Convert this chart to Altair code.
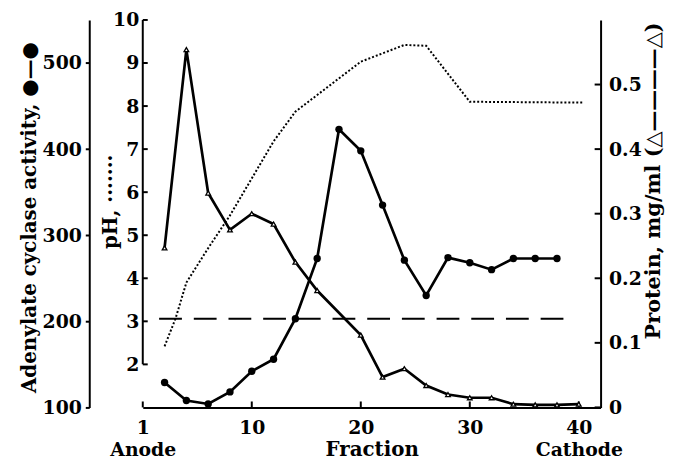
import altair as alt
import pandas as pd

# ---- data ----
act_fraction = [2, 4, 6, 8, 10, 12, 14, 16, 18, 20, 22, 24, 26, 28, 30, 32, 34, 36, 38]
act_value = [129, 108, 104, 118, 142, 156, 203, 273, 423, 398, 335, 271, 230, 274, 268, 260, 273, 273, 273]

prot_fraction = [2, 4, 6, 8, 10, 12, 14, 16, 20, 22, 24, 26, 28, 30, 32, 34, 36, 38, 40]
prot_value = [0.247, 0.554, 0.332, 0.275, 0.300, 0.284, 0.225, 0.181, 0.112, 0.047, 0.060,
              0.034, 0.020, 0.015, 0.015, 0.005, 0.004, 0.004, 0.005]

ph_fraction = [2, 3, 4, 6, 8, 10, 12, 14, 20, 24, 26, 30, 40.4]
ph_value = [2.42, 3.06, 3.90, 4.70, 5.46, 6.32, 7.18, 7.87, 9.03, 9.42, 9.40, 8.10, 8.08]

baseline_activity = [203]
baseline_from = [1.5]
baseline_to = [39.5]

x_ticks = [0, 10, 20, 30, 40]
act_ticks = [100, 200, 300, 400, 500]
ph_ticks = [2, 3, 4, 5, 6, 7, 8, 9, 10]
prot_ticks = [0, 0.1, 0.2, 0.3, 0.4, 0.5]

W, H = 462, 391
FONT = "DejaVu Serif"

act_df = pd.DataFrame({"fraction": act_fraction, "activity": act_value})
prot_df = pd.DataFrame({"fraction": prot_fraction, "protein": prot_value})
ph_df = pd.DataFrame({"fraction": ph_fraction, "ph": ph_value})
base_df = pd.DataFrame({"fraction": baseline_from, "fraction_end": baseline_to, "activity": baseline_activity})
xt_df = pd.DataFrame({"fraction": x_ticks})
pht_df = pd.DataFrame({"ph": ph_ticks})
phax_df = pd.DataFrame({"ph": [min(ph_ticks)], "ph_end": [max(ph_ticks)]})
prt_df = pd.DataFrame({"protein": prot_ticks})

X = alt.X(
    "fraction:Q",
    scale=alt.Scale(domain=[0, 42], nice=False, zero=False),
    axis=alt.Axis(
        values=x_ticks,
        labelExpr="datum.value == 0 ? ['1', 'Anode'] : (datum.value == 40 ? ['40', 'Cathode'] : datum.label)",
        labelFlush=False,
        labelOverlap=False,
        labelLineHeight=23,
        tickSize=0,
        labelPadding=11,
        title="Fraction",
        titleX=231,
        titleY=43,
        titleAlign="center",
        titleBaseline="middle",
    ),
)

Y_act = alt.Y(
    "activity:Q",
    scale=alt.Scale(domain=[100, 550], nice=False, zero=False),
    axis=alt.Axis(
        orient="left",
        offset=54,
        values=act_ticks,
        tickSize=4,
        labelPadding=4,
        title="Adenylate cyclase activity, ●—●",
        titleAngle=270,
        titleX=-60,
        titleY=199,
        titleAlign="center",
        titleBaseline="middle",
    ),
)

Y_ph = alt.Y(
    "ph:Q",
    scale=alt.Scale(domain=[1, 10], nice=False, zero=False),
    axis=alt.Axis(
        orient="left",
        values=ph_ticks,
        tickSize=0,
        labelPadding=4,
        domain=False,
        title="pH, ·······",
        titleAngle=270,
        titleX=-33,
        titleY=183,
        titleAlign="center",
        titleBaseline="middle",
    ),
)

Y_prot = alt.Y(
    "protein:Q",
    scale=alt.Scale(domain=[0, 0.6], nice=False, zero=False),
    axis=alt.Axis(
        orient="right",
        values=prot_ticks,
        labelExpr="datum.value == 0 ? '0' : format(datum.value, '.1f')",
        tickSize=0,
        labelPadding=8,
        title="Protein, mg/ml (△————△)",
        titleFontSize=21,
        titleAngle=270,
        titleX=53,
        titleY=162,
        titleAlign="center",
        titleBaseline="middle",
    ),
)

# activity group
act_line = alt.Chart(act_df).mark_line(color="black", strokeWidth=2.7).encode(x=X, y=Y_act)
act_pts = alt.Chart(act_df).mark_circle(color="black", size=55, opacity=1).encode(x=X, y=Y_act)
base_rule = alt.Chart(base_df).mark_rule(color="black", strokeWidth=2, strokeDash=[23, 12]).encode(
    x=X, x2="fraction_end:Q", y=Y_act
)
x_tick_rules = alt.Chart(xt_df).mark_rule(color="black", strokeWidth=2).encode(
    x=X, y=alt.value(H), y2=alt.value(H - 6)
)
act_group = alt.layer(base_rule, act_line, act_pts, x_tick_rules)

# pH group
ph_line = alt.Chart(ph_df).mark_line(color="black", strokeWidth=2, strokeDash=[2, 2]).encode(x=X, y=Y_ph)
ph_axis_rule = alt.Chart(phax_df).mark_rule(color="black", strokeWidth=2).encode(
    x=alt.value(0), y=Y_ph, y2="ph_end:Q"
)
ph_tick_rules = alt.Chart(pht_df).mark_rule(color="black", strokeWidth=2).encode(
    x=alt.value(0), x2=alt.value(5), y=Y_ph
)
ph_group = alt.layer(ph_line, ph_axis_rule, ph_tick_rules)

# protein group
prot_line = alt.Chart(prot_df).mark_line(color="black", strokeWidth=2.7).encode(x=X, y=Y_prot)
prot_pts = alt.Chart(prot_df).mark_point(
    shape="triangle-up", filled=True, fill="white", stroke="black", strokeWidth=1.3, size=22, opacity=1
).encode(x=X, y=Y_prot)
prot_tick_rules = alt.Chart(prt_df).mark_rule(color="black", strokeWidth=2).encode(
    x=alt.value(W - 6), x2=alt.value(W), y=Y_prot
)
prot_group = alt.layer(prot_line, prot_pts, prot_tick_rules)

chart = (
    alt.layer(act_group, ph_group, prot_group)
    .resolve_scale(y="independent")
    .properties(
        width=W,
        height=H,
        padding={"left": 136, "top": 10, "right": 65, "bottom": 53},
        autosize="none",
        background="white",
    )
    .configure_view(stroke=None)
    .configure_axis(
        labelFont=FONT,
        titleFont=FONT,
        labelFontWeight="bold",
        titleFontWeight="bold",
        labelFontSize=19,
        titleFontSize=20,
        labelColor="black",
        titleColor="black",
        domainColor="black",
        domainWidth=2,
        tickColor="black",
        tickWidth=2,
        grid=False,
    )
)

chart.save("out.html", embed_options={"renderer": "svg", "actions": False})
